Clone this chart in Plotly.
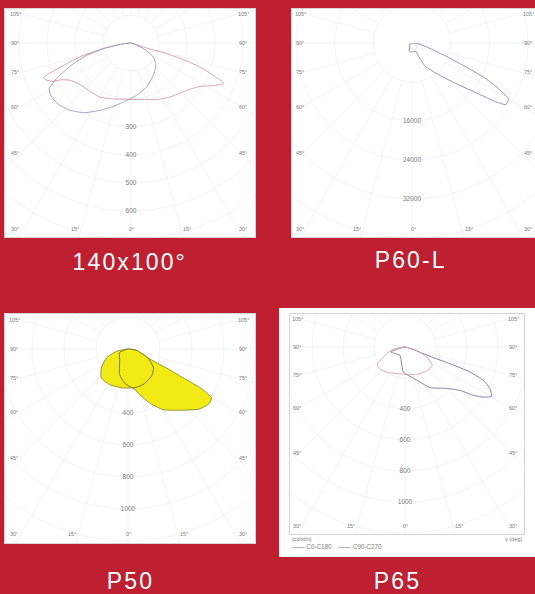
import numpy as np
import plotly.graph_objects as go

W, H = 535, 594
RED = "#BE2031"

# --- data (candela, lateral / axial components of each polar curve) ---
p1_c0_x = [0,56,127,199,258,306,332,294,246,199,139,92,44,-15,-63,-111,-152,-188,-218,-248,-277,-301,-313,-277,-230,-170,-99,-39,0]
p1_c0_y = [0,-18,-38,-64,-92,-124,-145,-152,-155,-169,-193,-202,-202,-201,-200,-193,-169,-145,-133,-131,-137,-133,-124,-100,-74,-44,-20,-5,0]
p1_c90_x = [0,44,80,89,80,56,20,-27,-75,-123,-170,-218,-260,-287,-292,-271,-242,-206,-158,-99,-39,0]
p1_c90_y = [0,-20,-50,-80,-115,-157,-187,-211,-231,-243,-249,-240,-219,-187,-163,-133,-104,-74,-44,-20,-5,0]

p2_c0_x = [-480,1030,2740,6850,10960,15070,17810,19520,20000,19390,17125,13700,9590,5480,2740,1370,820,-140,-550,-480]
p2_c0_y = [-205,-70,-685,-2600,-4795,-7190,-9250,-10960,-11510,-12670,-11990,-10410,-8560,-6510,-4795,-2740,-1710,-1850,-1710,-205]
p2_c90_x = [0,1030,700,0,-340,0]
p2_c90_y = [0,-685,-1370,-1710,-1030,0]

p3_c0_x = [0,52,115,240,365,469,521,510,448,323,219,135,73,31,-31,-115,-167,-167,-135,-73,0]
p3_c0_y = [0,-8,-50,-119,-192,-254,-306,-338,-375,-383,-379,-338,-285,-244,-244,-223,-181,-119,-56,-15,0]
p3_c90_x = [0,-52,-52,-52,-21,31,94,146,160,125,52,0]
p3_c90_y = [0,-21,-67,-160,-213,-244,-223,-171,-119,-56,-8,0]

p4_c0_x = [0,54,161,290,419,505,548,559,505,441,355,269,161,97,32,-11,-22,-32,-75,-92,-43,0]
p4_c0_y = [0,-17,-60,-108,-161,-215,-269,-318,-323,-312,-280,-267,-262,-226,-189,-161,-108,-54,-39,-32,-11,0]
p4_c90_x = [0,75,140,176,140,75,11,-86,-140,-172,-178,-140,-92,-43,0]
p4_c90_y = [0,-22,-65,-118,-155,-176,-176,-168,-155,-133,-108,-65,-22,-6,0]

radial_p1 = [300,400,500,600]
radial_p2 = [16000,24000,32000]
radial_p3 = [400,600,800,1000]
radial_p4 = [400,600,800,1000]
side_angles = [105,90,75,60,45]
bottom_angles = [-30,-15,0,15,30]
captions = ["140x100°","P60-L","P50","P65"]

panels = [
    dict(frame=(5,255,9,237), o=(131,43), s=0.28, step=100, radial=radial_p1, cap=captions[0], capxy=(129,262),
         cols=(15,243), rowspan=110, botrow=229,
         curves=[(p1_c0_x,p1_c0_y,"#d49aa8"),(p1_c90_x,p1_c90_y,"#9a96bf")], fill=False),
    dict(frame=(292,537,9,237), o=(413,43), s=0.004875, step=8000, radial=radial_p2, cap=captions[1], capxy=(411,260),
         cols=(300,528), rowspan=110, botrow=229,
         curves=[(p2_c0_x,p2_c0_y,"#8a84b0"),(p2_c90_x,p2_c90_y,"#ecd0d6")], fill=False),
    dict(frame=(5,255,314,543), o=(128,349), s=0.16, step=200, radial=radial_p3, cap=captions[2], capxy=(130,581),
         cols=(14,243), rowspan=109, botrow=534,
         curves=[(p3_c0_x,p3_c0_y,"#8a8832"),(p3_c90_x,p3_c90_y,"#6b6b2a")], fill=True),
    dict(frame=(290,524,314,534), o=(405,347), s=0.155, step=200, radial=radial_p4, cap=captions[3], capxy=(397,581),
         cols=(297,513), rowspan=106, botrow=526,
         curves=[(p4_c0_x,p4_c0_y,"#76769f"),(p4_c90_x,p4_c90_y,"#d2a0a8")], fill=False),
]

fig = go.Figure()
shapes, annos = [], []
FS = 5.5
TXT = "#7d7d7d"
GRID = "#eef0f4"

def px(x): return x / W
def py(y): return 1 - y / H

# white backing card: panel 4 carries a legend strip below the frame
shapes.append(dict(type="rect", xref="paper", yref="paper", x0=px(279), x1=px(536), y0=py(557), y1=py(308),
                   fillcolor="white", line_width=0, layer="below"))

for i, p in enumerate(panels, 1):
    l, r, t, b = p["frame"]
    ox, oy = p["o"]
    s = p["s"]
    ax = "" if i == 1 else str(i)
    xr = [(l - ox) / s, (r - ox) / s]
    yr = [(oy - b) / s, (oy - t) / s]
    common = dict(showgrid=False, zeroline=False, showticklabels=False, ticks="", showline=True, linecolor="#d4d4d4",
                  linewidth=1, mirror=True, fixedrange=True)
    fig.layout[f"xaxis{ax}"] = dict(domain=[px(l), min(px(r), 1)], range=xr, anchor=f"y{ax}", **common)
    fig.layout[f"yaxis{ax}"] = dict(domain=[py(b), py(t)], range=yr, anchor=f"x{ax}", **common)
    xa, ya = f"x{ax}", f"y{ax}"
    th = np.linspace(0, 2*np.pi, 241)
    rmax = 340 / s
    for k in range(1, int(rmax / p["step"]) + 1):
        R = k * p["step"]
        fig.add_trace(go.Scatter(x=R*np.cos(th), y=R*np.sin(th), mode="lines", xaxis=xa, yaxis=ya,
                                 line=dict(color=GRID, width=0.8), hoverinfo="skip", showlegend=False))
    for g in range(0, 360, 15):
        a = np.radians(g)
        fig.add_trace(go.Scatter(x=[p["step"]*np.sin(a), rmax*np.sin(a)], y=[-p["step"]*np.cos(a), -rmax*np.cos(a)],
                                 mode="lines", xaxis=xa, yaxis=ya, line=dict(color=GRID, width=0.8),
                                 hoverinfo="skip", showlegend=False))
    smooth = 0.3 if i == 2 else 0.5
    for cx, cy, col in p["curves"]:
        fig.add_trace(go.Scatter(x=cx, y=cy, mode="lines", xaxis=xa, yaxis=ya,
                                 line=dict(color=col, width=0.9, shape="spline", smoothing=smooth),
                                 fill="toself" if p["fill"] else None, fillcolor="#F2EA14" if p["fill"] else None,
                                 hoverinfo="skip", showlegend=False))
    fig.add_trace(go.Scatter(x=[0]*len(p["radial"]), y=[-v for v in p["radial"]], mode="text",
                             text=[str(v) for v in p["radial"]], textfont=dict(size=6.5, color=TXT, family="Liberation Sans"),
                             xaxis=xa, yaxis=ya, hoverinfo="skip", showlegend=False))
    font = dict(size=FS, color=TXT, family="Liberation Sans")
    common_text = dict(xref="paper", yref="paper", showarrow=False, xanchor="center", yanchor="middle")
    cl, cr = p["cols"]
    for ang in side_angles:
        yy = 0 if ang == 90 else 1.0 / np.tan(np.radians(ang))
        for xpos in (cl, cr):
            annos.append(dict(x=px(xpos), y=py(oy + yy * p["rowspan"]), text=f"{ang}°", font=font, **common_text))
    yb = p["botrow"]
    for ang in bottom_angles:
        if ang == -30:
            xp = cl
        elif ang == 30:
            xp = cr
        else:
            xp = ox + (yb - oy) * np.tan(np.radians(ang)) * 1.12
        annos.append(dict(x=px(xp), y=py(yb), text=f"{abs(ang)}°", font=font, **common_text))
    annos.append(dict(x=px(p["capxy"][0]), y=py(p["capxy"][1]), text=p["cap"],
                      font=dict(size=23, color="white", family="Liberation Sans"), **common_text))

for txt, x, y, fs in (("(cd/klm)", 302, 539, FS), ("—— C0-C180    —— C90-C270", 337, 546, 6.3), ("γ (deg)", 513, 539, FS)):
    annos.append(dict(x=px(x), y=py(y), text=txt, font=dict(size=fs, color=TXT, family="Liberation Sans"), **common_text))

fig.update_layout(width=W, height=H, margin=dict(l=0, r=0, t=0, b=0), paper_bgcolor=RED, plot_bgcolor="white",
                  shapes=shapes, annotations=annos, showlegend=False)
fig.write_html("out.html", config=dict(displayModeBar=False),
               post_script="""document.body.style.margin='0';document.body.style.background='#BE2031';
document.querySelectorAll('.annotation-text').forEach(function(t){if(parseFloat(t.style.fontSize)>20){t.style.letterSpacing='2.1px';}});""")
